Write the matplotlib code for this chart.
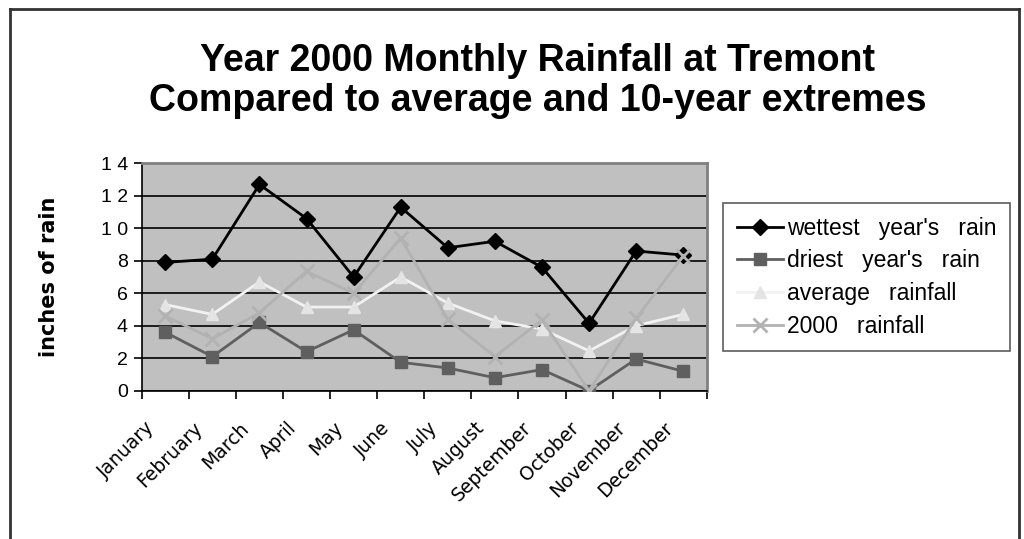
import matplotlib
matplotlib.use('Agg')
import matplotlib.pyplot as plt
import matplotlib.transforms as mtransforms
from matplotlib.lines import Line2D
from matplotlib.ticker import FixedLocator, FuncFormatter

months = ['January', 'February', 'March', 'April', 'May', 'June', 'July',
          'August', 'September', 'October', 'November', 'December']
wettest = [7.9, 8.1, 12.7, 10.6, 7.0, 11.3, 8.8, 9.2, 7.6, 4.15, 8.6, 8.35]
driest = [3.6, 2.1, 4.2, 2.4, 3.75, 1.75, 1.4, 0.8, 1.3, 0.0, 1.95, 1.2]
average = [5.3, 4.7, 6.7, 5.15, 5.15, 7.0, 5.4, 4.3, 3.8, 2.45, 4.0, 4.7]
rain2000 = [4.6, 3.2, 4.8, 7.35, 6.0, 9.4, 4.4, 2.1, 4.35, 0.0, 4.45, 8.3]

plt.rcParams['font.family'] = ['Liberation Sans', 'DejaVu Sans']

fig = plt.figure(figsize=(10.24, 5.39), dpi=100)
ax = fig.add_axes([0.1384, 0.2751, 0.5518, 0.4219])
x = list(range(len(months)))

# series
ax.plot(x, wettest, color='black', lw=2, marker='D', ms=8, mec='black',
        label="wettest   year's   rain", zorder=3)
ax.plot(x, driest, color='#5f5f5f', lw=2, marker='s', ms=8, mec='#5f5f5f',
        label="driest   year's   rain", zorder=3)
ax.plot(x, average, color='#f2f2f2', lw=2, marker='^', ms=9, mfc='#e4e4e4',
        mec='#e4e4e4', label='average   rainfall', zorder=3)
ax.plot(x, rain2000, color='#b2b2b2', lw=2, marker='x', ms=10, mew=2,
        label='2000   rainfall', zorder=4)

ax.set_facecolor('#c0c0c0')
ax.set_xlim(-0.5, 11.5)
ax.set_ylim(0, 14)
ax.set_yticks(range(0, 15, 2))
ax.yaxis.set_major_formatter(FuncFormatter(lambda v, p: ' '.join(str(int(v)))))
ax.grid(axis='y', color='black', lw=1.2)
ax.set_axisbelow(True)

# category boundaries get the ticks, labels sit in the middle
ax.xaxis.set_major_locator(FixedLocator([i - 0.5 for i in range(13)]))
ax.xaxis.set_major_formatter(FuncFormatter(lambda v, p: ''))
ax.xaxis.set_minor_locator(FixedLocator(x))
ax.tick_params(axis='x', which='minor', length=0, pad=20)
ax.tick_params(axis='x', which='major', length=6, width=1.2, color='black')
ax.tick_params(axis='y', length=6, width=1.2, labelsize=14, pad=4)
labels = ax.set_xticklabels(months, minor=True, rotation=45, ha='right',
                            rotation_mode='anchor', fontsize=13.5,
                            family='DejaVu Sans')
shift = mtransforms.ScaledTranslation(-0.2, 0, fig.dpi_scale_trans)
for t in labels:
    t.set_transform(t.get_transform() + shift)

for s in ['top', 'right']:
    ax.spines[s].set_color('#808080')
    ax.spines[s].set_linewidth(2)
for s in ['left', 'bottom']:
    ax.spines[s].set_color('black')
    ax.spines[s].set_linewidth(1.2)

ax.set_ylabel('inches of rain', fontsize=15, fontweight='bold',
              family='DejaVu Sans', labelpad=30)

fig.text(0.525, 0.886, 'Year 2000 Monthly Rainfall at Tremont',
         ha='center', va='center', fontsize=27, fontweight='bold')
fig.text(0.525, 0.812, 'Compared to average and 10-year extremes',
         ha='center', va='center', fontsize=27, fontweight='bold')

leg = fig.legend(loc='upper left', bbox_to_anchor=(723 / 1024, 1 - 203 / 539),
                 fontsize=16.5, frameon=True, fancybox=False, handlelength=2.0,
                 handletextpad=0.2, borderpad=0.6, labelspacing=0.42,
                 borderaxespad=0)
leg.get_frame().set_edgecolor('#333333')
leg.get_frame().set_linewidth(1.2)

# outer chart border (bottom edge is cut off in the reference)
for xs, ys in [([10, 10], [539, 9]), ([10, 1019], [9, 9]), ([1019, 1019], [9, 539])]:
    fig.add_artist(Line2D([a / 1024 for a in xs], [1 - b / 539 for b in ys],
                          color='#333333', lw=2))

fig.savefig('out.png', dpi=100)
